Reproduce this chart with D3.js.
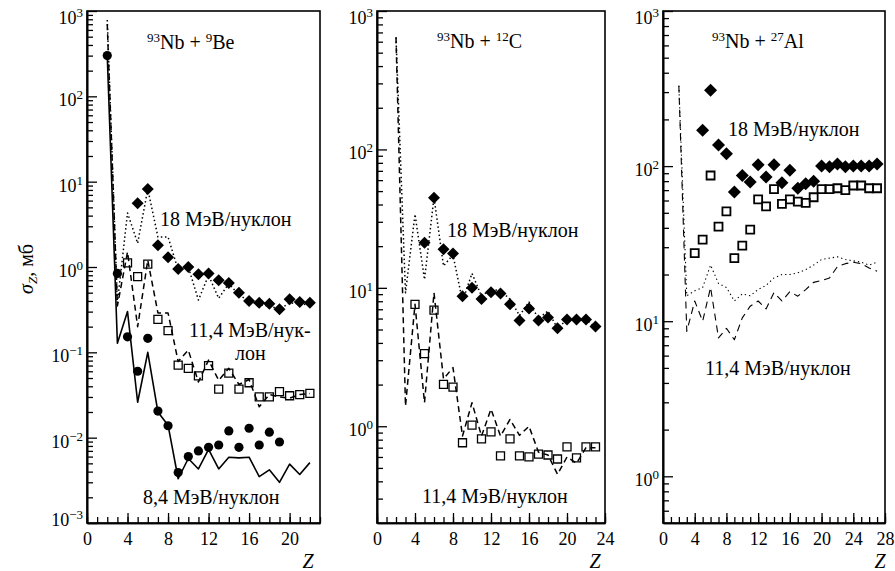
<!DOCTYPE html>
<html><head><meta charset="utf-8">
<script src="https://cdn.jsdelivr.net/npm/d3@7"></script>
<style>
body{margin:0;background:#fff}
svg{display:block}
.ser{font-family:serif}
</style></head><body>
<svg id="c" width="895" height="571"></svg>
<script>
// ---------- DATA ----------
// Panel 1: 93Nb + 9Be
const beZ_circ = [2,3,4,5,6,7,8,9,10,11,12,13,14,15,16,17,18,19];
const beCirc   = [300,0.84,0.152,0.060,0.146,0.0205,0.0138,0.0039,0.0060,0.0070,0.0077,0.0082,0.012,0.0077,0.0129,0.0082,0.0116,0.0089];
const beZ_solid = [2,3,4,5,6,7,8,9,10,11,12,13,14,15,16,17,18,19,20,21,22];
const beSolid   = [300,0.128,0.30,0.026,0.10,0.020,0.014,0.0033,0.0057,0.0043,0.0073,0.0043,0.0059,0.0058,0.0059,0.0035,0.0042,0.0030,0.0049,0.0037,0.0051];
const beZ_diam = [5,6,7,8,9,10,11,12,13,14,15,16,17,18,19,20,21,22];
const beDiam   = [5.6,8.2,1.8,1.30,0.95,1.0,0.82,0.84,0.70,0.65,0.50,0.40,0.38,0.37,0.32,0.42,0.39,0.38];
const beZ_dot = [2,3,4,5,6,7,8,9,10,11,12,13,14,15,16,17,18,19,20,21,22];
const beDot   = [785,0.38,4.3,1.9,8.2,2.25,2.25,0.92,1.0,0.41,0.80,0.43,0.64,0.47,0.40,0.36,0.35,0.32,0.38,0.37,0.36];
const beZ_sq = [4,5,6,7,8,9,10,11,12,13,14,15,16,17,18,19,20,21,22];
const beSq   = [1.12,0.77,1.08,0.244,0.18,0.071,0.065,0.053,0.070,0.037,0.057,0.037,0.044,0.030,0.030,0.0346,0.031,0.032,0.033];
const beZ_dash = [2,3,4,5,6,7,8,9,10,11,12,13,14,15,16,17,18,19,20,21,22];
const beDash   = [700,0.35,1.5,0.2,1.2,0.29,0.29,0.078,0.106,0.045,0.081,0.047,0.065,0.042,0.048,0.023,0.032,0.030,0.029,0.032,0.033];

// Panel 2: 93Nb + 12C
const cZ_diam = [5,6,7,8,9,10,11,12,13,14,15,16,17,18,19,20,21,22,23];
const cDiam   = [21.2,44.8,19.0,17.7,8.7,10.0,8.3,9.3,9.1,7.6,5.8,7.1,5.8,6.1,5.1,5.9,5.9,5.9,5.25];
const cZ_dot = [2,3,4,5,6,7,8,9,10,11,12,13,14,15,16,17,18,19,20,21,22,23];
const cDot   = [645,9.2,34,11.5,45,14.4,17.3,8.0,12.7,8.7,9.8,9.5,8.3,6.3,7.9,6.0,6.8,5.1,5.9,5.8,5.9,5.2];
const cZ_sq = [4,5,6,7,8,9,10,11,12,13,14,15,16,17,18,19,20,21,22,23];
const cSq   = [7.6,3.35,6.9,2.01,1.92,0.76,1.02,0.81,0.91,0.61,0.81,0.61,0.60,0.63,0.62,0.58,0.71,0.59,0.71,0.71];
const cZ_dash = [2,3,4,5,6,7,8,9,10,11,12,13,14,15,16,17,18,19,20,21,22,23];
const cDash   = [645,1.40,7.6,1.48,9.2,2.2,2.65,0.85,1.48,0.85,1.33,0.85,1.12,0.86,1.0,0.65,0.62,0.45,0.6,0.54,0.7,0.7];

// Panel 3: 93Nb + 27Al
const alZ_diam = [5,6,7,8,9,10,11,12,13,14,15,16,17,18,19,20,21,22,23,24,25,26,27];
const alDiam   = [170,308,137,120,68,87,79,102,85,102,78,94,72,77,80,100,99,103,99,100,100,100,103];
const alZ_sq = [4,5,6,7,8,9,10,11,12,13,14,15,16,17,18,19,20,21,22,23,24,25,26,27];
const alSq   = [27.5,33.6,87,40.7,51,25.5,30.7,38.9,61,55,71,57,61,59,58,63,71,71,72,70,75,75,72,72];
const alZ_line = [2,3,4,5,6,7,8,9,10,11,12,13,14,15,16,17,18,19,20,21,22,23,24,25,26,27];
const alDot    = [330,14.6,15.7,16.5,23,17.5,16.5,13.5,15,14.6,16,17,19,20,20,20.5,21.5,23,25,25.5,26,25,24.5,24,23,24];
const alDash   = [330,8.6,13.5,10,16.5,7.8,9.0,7.6,10.5,12.5,13.5,12,15.3,13.5,15.5,14.5,16,17.8,18.3,19,22.5,23.5,24,23.5,22,21];

// Tick labels
const xTicks1 = [0,4,8,12,16,20];
const xTicks2 = [0,4,8,12,16,20,24];
const xTicks3 = [0,4,8,12,16,20,24,28];
const yExp1 = [-3,-2,-1,0,1,2,3];
const yExp2 = [0,1,2,3];
const yExp3 = [0,1,2,3];

// Texts
const labelEnergy18 = "18 МэВ/нуклон";
const labelEnergy11 = "11,4 МэВ/нуклон";
const labelEnergy8 = "8,4 МэВ/нуклон";

// ---------- DRAW ----------
const svg = d3.select("#c");
svg.append("rect").attr("width",895).attr("height",571).attr("fill","#fff");

function setFont(sel){
  return sel.attr("class","ser").style("font-family","'Liberation Serif', 'Times New Roman', Times, serif");
}

const panels = [
  {left:87, right:320, top:11, bottom:523, xMax:23, yMin:1e-3, yMax:1e3, xt:xTicks1, ye:yExp1, zx:308},
  {left:377, right:605, top:11, bottom:523, xMax:24, yMin:0.2, yMax:1e3, xt:xTicks2, ye:yExp2, zx:595},
  {left:663, right:885, top:11, bottom:523, xMax:28, yMin:0.5, yMax:1e3, xt:xTicks3, ye:yExp3, zx:880}
];

function styleAxis(g){
  g.attr("font-family",null);
  g.selectAll(".domain").attr("stroke","#000").attr("stroke-width",1.6);
  g.selectAll(".tick line").attr("stroke","#000").attr("stroke-width",1.3);
}

panels.forEach(p=>{
  p.x = d3.scaleLinear().domain([0,p.xMax]).range([p.left,p.right]);
  p.y = d3.scaleLog().domain([p.yMin,p.yMax]).range([p.bottom,p.top]);
  const g = svg.append("g");
  const minors=[];
  for(let d=Math.floor(Math.log10(p.yMin)); d<3; d++)
    for(let k=2;k<=9;k++){const v=k*Math.pow(10,d); if(v>p.yMin*1.001 && v<p.yMax) minors.push(v);}
  g.append("g").attr("transform",`translate(${p.left},0)`)
    .call(d3.axisLeft(p.y).tickValues(minors).tickSizeInner(-6).tickSizeOuter(0).tickFormat(""))
    .call(styleAxis);
  g.append("g").attr("transform",`translate(${p.left},0)`)
    .call(d3.axisLeft(p.y).tickValues(p.ye.map(e=>Math.pow(10,e))).tickSizeInner(-10).tickSizeOuter(0).tickFormat(""))
    .call(styleAxis);
  p.ye.forEach((e,i)=>{
    const v=Math.pow(10,e);
    let off=10;
    if(i===p.ye.length-1) off=13;
    if(e===-3) off=3;
    const t=g.append("text").attr("x",p.left-4).attr("y",p.y(v)+off)
      .attr("text-anchor","end").attr("font-size",18).call(setFont).text("10");
    t.append("tspan").attr("dy",-7).attr("font-size",13).text(e<0?"−"+(-e):String(e));
  });
  const xm=[]; for(let z=0; z<=p.xMax; z++) xm.push(z);
  g.append("g").attr("transform",`translate(0,${p.bottom})`)
    .call(d3.axisBottom(p.x).tickValues(xm).tickSizeInner(-6).tickSizeOuter(0).tickFormat(""))
    .call(styleAxis);
  const xa=g.append("g").attr("transform",`translate(0,${p.bottom})`)
    .call(d3.axisBottom(p.x).tickValues(p.xt).tickSizeInner(-10).tickSizeOuter(0).tickPadding(9))
    .call(styleAxis);
  xa.attr("font-size",18);
  xa.selectAll("text").attr("font-size",18).call(setFont).attr("fill","#000");
  g.append("rect").attr("x",p.left).attr("y",p.top).attr("width",p.right-p.left).attr("height",p.bottom-p.top)
    .attr("fill","none").attr("stroke","#000").attr("stroke-width",1.6);
  g.append("text").attr("x",p.zx).attr("y",568).attr("text-anchor","middle").call(setFont)
    .attr("font-size",20).attr("font-style","italic").text("Z");
});

function drawLine(p, zs, vs, dash, w){
  const pts = zs.map((z,i)=>[z,vs[i]]);
  svg.append("path").datum(pts)
    .attr("d", d3.line().x(d=>p.x(d[0])).y(d=>p.y(d[1])))
    .attr("fill","none").attr("stroke","#000").attr("stroke-width",w)
    .attr("stroke-dasharray",dash).attr("stroke-linejoin","round");
}
function drawMarkers(p, zs, vs, type, sz){
  const pts = zs.map((z,i)=>[z,vs[i]]);
  const sel = svg.append("g").selectAll("path").data(pts).join("path");
  if(type==="diamond"){
    sel.attr("d", d3.symbol(d3.symbolSquare, sz*sz/2)())
      .attr("transform",d=>`translate(${p.x(d[0])},${p.y(d[1])}) rotate(45)`).attr("fill","#000");
  } else if(type==="square"){
    sel.attr("d", d3.symbol(d3.symbolSquare, sz.s*sz.s)())
      .attr("transform",d=>`translate(${p.x(d[0])},${p.y(d[1])})`)
      .attr("fill","none").attr("stroke","#000").attr("stroke-width",sz.w);
  } else {
    sel.attr("d", d3.symbol(d3.symbolCircle, Math.PI*sz*sz)())
      .attr("transform",d=>`translate(${p.x(d[0])},${p.y(d[1])})`).attr("fill","#000");
  }
}

const [P1,P2,P3] = panels;
drawLine(P1, beZ_solid, beSolid, null, 1.6);
drawLine(P1, beZ_dot, beDot, "1.5,2.6", 1.5);
drawLine(P1, beZ_dash, beDash, "6,4", 1.5);
drawMarkers(P1, beZ_diam, beDiam, "diamond", 12);
drawMarkers(P1, beZ_sq, beSq, "square", {s:8,w:1.3});
drawMarkers(P1, beZ_circ, beCirc, "circle", 4.6);
drawLine(P2, cZ_dot, cDot, "1.5,2.6", 1.5);
drawLine(P2, cZ_dash, cDash, "6,4", 1.5);
drawMarkers(P2, cZ_diam, cDiam, "diamond", 12);
drawMarkers(P2, cZ_sq, cSq, "square", {s:8,w:1.3});
drawLine(P3, alZ_line, alDot, "1.3,3", 1.1);
drawLine(P3, alZ_line, alDash, "7,5", 1.1);
drawMarkers(P3, alZ_diam, alDiam, "diamond", 13);
drawMarkers(P3, alZ_sq, alSq, "square", {s:8,w:1.8});

function addText(x,y,str,size){
  return svg.append("text").attr("x",x).attr("y",y).call(setFont).attr("font-size",size||20).text(str);
}
function title(x,y,a1,e1,a2,e2){
  const t=svg.append("text").attr("x",x).attr("y",y).call(setFont).attr("font-size",20);
  t.append("tspan").attr("font-size",13).attr("dy",-7).text(a1);
  t.append("tspan").attr("dy",7).text(e1+" + ");
  t.append("tspan").attr("font-size",13).attr("dy",-7).text(a2);
  t.append("tspan").attr("dy",7).text(e2);
}
title(147,49,"93","Nb","9","Be");
title(437,48,"93","Nb","12","C");
title(712,48,"93","Nb","27","Al");

addText(160,226,labelEnergy18);
addText(189,337,"11,4 МэВ/нук-");
addText(235,360,"лон");
addText(143,504,labelEnergy8);
addText(447,237,labelEnergy18);
addText(422,503,labelEnergy11);
addText(728,136,labelEnergy18);
addText(705,375,labelEnergy11);

const yt = svg.append("text").attr("transform","translate(33,269) rotate(-90)")
  .attr("text-anchor","middle").call(setFont).attr("font-size",20);
yt.append("tspan").attr("font-style","italic").text("σ");
yt.append("tspan").attr("font-style","italic").attr("font-size",13).attr("dy",4).text("Z");
yt.append("tspan").attr("dy",-4).text(", мб");
</script>
</body></html>
